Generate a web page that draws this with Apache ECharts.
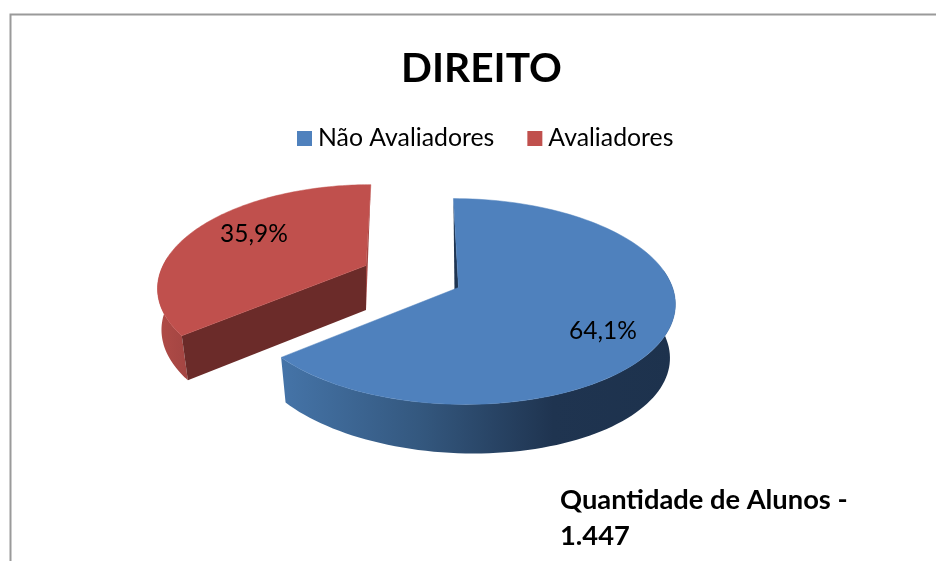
<!DOCTYPE html>
<html><head><meta charset="utf-8">
<style>html,body{margin:0;padding:0;background:#fff}#c{width:936px;height:561px}</style>
<script src="https://cdn.jsdelivr.net/npm/echarts@6/dist/echarts.min.js"></script>
</head><body><div id="c"></div>
<script>
const titleText = 'DIREITO';
const categories = ['Não Avaliadores', 'Avaliadores'];
const values = [64.1, 35.9];
const valueLabels = ['64,1%', '35,9%'];
const noteLines = ['Quantidade de Alunos -', '1.447'];

const total = values.reduce((a, b) => a + b, 0);
const DEG = Math.PI / 180;
// Perspective view of each slice (layout only).
const views = [
  { ax: 458.5, ay: 287.5, sx: 214, sy: 101, k: 0.136, shear: 0.057, from: 0, depth: 49, depthTilt: 0.1, shrink: 0.975, shrinkCos: 0,
    wallFrom: 80, wallTo: 231, label: [603, 331],
    top: '#4F81BD', sliver: '#1F3552', cut: '#1F3552',
    wall: [[0, '#1D324D'], [0.31, '#1F3450'], [0.65, '#34587F'], [1, '#4574A8']] },
  { ax: 366, ay: 265.5, sx: 203, sy: 97, k: 0.2, shear: -0.06, to: 0, depth: 44.5, depthTilt: 0, shrink: 0.988, shrinkCos: 0.033,
    wallFrom: -130, wallTo: -85, label: [254, 234],
    top: '#C0504D', sliver: '#A34542', cut: '#6B2B29',
    wall: [[0, '#B04B47'], [1, '#A34542']] }
];

function rim(v, deg) {
  const c = Math.cos(deg * DEG), s = Math.sin(deg * DEG), d = 1 + v.k * c;
  const y = -v.sy * c / d;
  return [v.ax + v.sx * s / d + v.shear * y, v.ay + y];
}
function lower(v, deg) {
  const p = rim(v, deg);
  const h = v.depth * (1 + v.depthTilt * Math.sin(deg * DEG));
  const sh = v.shrink - v.shrinkCos * Math.abs(Math.cos(deg * DEG));
  return [v.ax + (p[0] - v.ax) * sh, p[1] + h];
}
function renderSlice(i) {
  const v = views[i];
  const sweep = values[i] / total * 360;
  const a0 = v.from !== undefined ? v.from : v.to - sweep;
  const a1 = a0 + sweep;
  const arc = [];
  for (let n = 0; n <= 120; n++) arc.push(rim(v, a0 + sweep * n / 120));
  const wallAngles = [];
  const wFrom = Math.max(a0, v.wallFrom), wTo = Math.min(a1, v.wallTo);
  for (let n = 0; n <= 80; n++) wallAngles.push(wFrom + (wTo - wFrom) * n / 80);
  const apex = [v.ax, v.ay];
  const apexLow = [v.ax, v.ay + v.depth];
  const first = arc[0], last = arc[arc.length - 1];
  const children = [];
  // outer wall
  const wallPts = wallAngles.map(a => rim(v, a)).concat(wallAngles.map(a => lower(v, a)).reverse());
  children.push({ type: 'polygon', shape: { points: wallPts },
    style: { fill: new echarts.graphic.LinearGradient(i === 0 ? 1 : 0, 0, i === 0 ? 0 : 1, 0, v.wall.map(g => ({ offset: g[0], color: g[1] }))) } });
  if (i === 0) {
    // inner wall seen beside the start edge
    children.push({ type: 'polygon', shape: { points: [first, apex, [apex[0], apex[1] + 5], [apex[0] - 4, apex[1] + 5]] },
      style: { fill: v.sliver } });
  } else {
    // cut walls
    children.push({ type: 'polygon', shape: { points: [first, apex, apexLow, lower(v, a0)] }, style: { fill: v.cut } });
    children.push({ type: 'polygon', shape: { points: [last, apex, apexLow] }, style: { fill: v.sliver } });
  }
  // top face
  children.push({ type: 'polygon', shape: { points: arc.concat([apex]) }, style: { fill: v.top, stroke: v.top, lineWidth: 0.5 } });
  children.push({ type: 'text', style: { text: valueLabels[i], x: v.label[0], y: v.label[1], align: 'center', verticalAlign: 'middle',
    fill: '#000', font: '24.5px Lato' } });
  return { type: 'group', children };
}

const chart = echarts.init(document.getElementById('c'), null, { renderer: 'canvas' });
chart.setOption({
  animation: false,
  backgroundColor: '#fff',
  title: { text: titleText, left: 396, top: 43, textStyle: { fontFamily: 'Lato', fontWeight: 'bold', fontSize: 40.7, color: '#000' } },
  legend: { data: categories, top: 121, left: 292, icon: 'rect', itemWidth: 15, itemHeight: 15, itemGap: 33,
    textStyle: { fontFamily: 'Lato', fontSize: 24.8, color: '#000', padding: [0, 0, 0, 1] }, selectedMode: false },
  graphic: [
    { type: 'rect', silent: true, shape: { x: 10.5, y: 14.5, width: 1000, height: 700 }, style: { fill: 'none', stroke: '#9A9A9A', lineWidth: 2 } },
    { type: 'text', silent: true, x: 560, y: 482, style: { text: noteLines.join('\n'), font: 'bold 27.3px Lato', lineHeight: 36, fill: '#000' } }
  ],
  series: categories.map((name, i) => ({
    type: 'custom', name, coordinateSystem: 'none', silent: true,
    itemStyle: { color: views[i].top },
    data: [values[i]],
    renderItem: () => renderSlice(i)
  }))
});
</script></body></html>
